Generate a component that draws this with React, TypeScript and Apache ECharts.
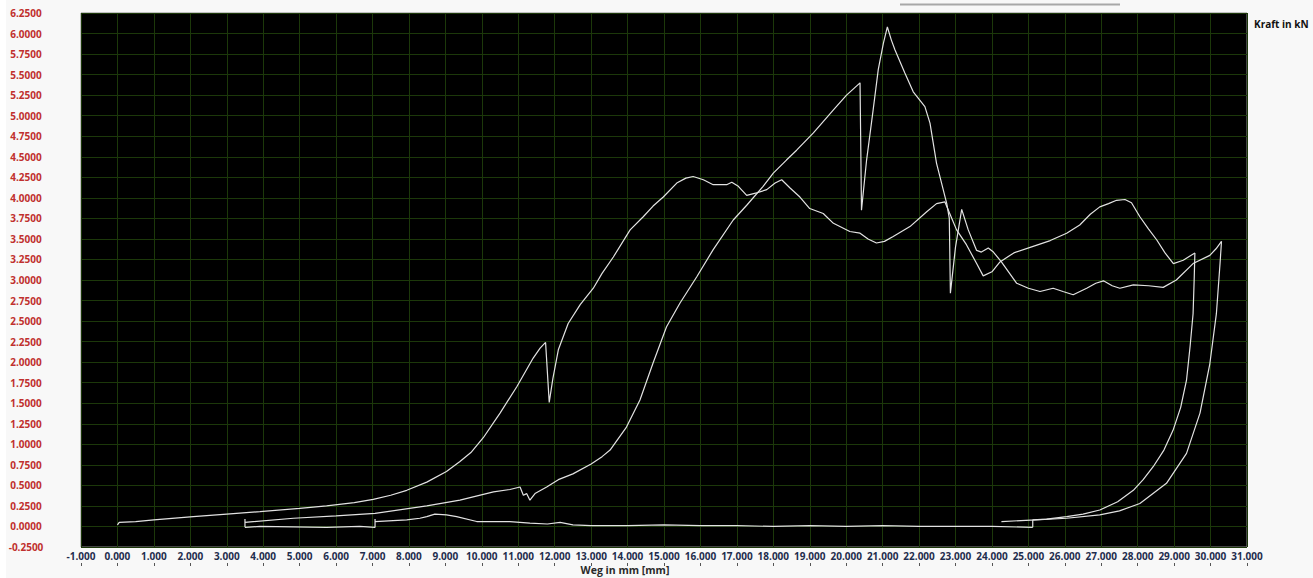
import React, { useEffect, useRef } from "react";
import * as echarts from "echarts";

// Force (kN) vs. displacement (mm) trace, split into its segments
const firstLoading: [number, number][] = [
  [0.0, 0.02], [0.05, 0.05], [0.5, 0.06], [1.0, 0.08], [2.08, 0.12], [3.0, 0.15], [3.91, 0.18], [5.0, 0.22],
  [5.74, 0.25], [6.5, 0.29], [7.02, 0.33], [7.5, 0.38], [7.94, 0.44], [8.49, 0.54], [9.03, 0.67], [9.4, 0.79],
  [9.7, 0.9], [10.04, 1.08], [10.5, 1.38], [10.96, 1.7], [11.41, 2.05], [11.6, 2.17], [11.75, 2.24], [11.85, 1.51],
  [11.95, 1.8], [12.1, 2.15], [12.37, 2.47], [12.7, 2.7], [13.06, 2.9], [13.3, 3.08], [13.61, 3.28], [14.07, 3.61],
  [14.43, 3.77], [14.7, 3.9], [14.98, 4.01], [15.35, 4.18], [15.6, 4.24], [15.8, 4.26], [16.08, 4.22], [16.35, 4.16],
  [16.72, 4.16], [16.86, 4.19], [17.04, 4.14], [17.27, 4.03], [17.54, 4.06], [17.82, 4.1], [18.05, 4.18], [18.23, 4.22],
  [18.46, 4.12], [18.73, 4.01], [19.0, 3.87], [19.37, 3.81], [19.65, 3.69], [20.1, 3.59], [20.38, 3.57], [20.6, 3.5],
  [20.83, 3.45], [21.05, 3.47], [21.29, 3.53], [21.75, 3.65], [22.21, 3.83], [22.48, 3.93], [22.71, 3.95], [22.85, 3.8],
  [23.03, 3.61], [23.3, 3.43], [23.58, 3.2], [23.76, 3.05], [24.0, 3.1], [24.22, 3.22], [24.6, 3.33], [25.13, 3.41],
  [25.6, 3.48], [26.05, 3.57], [26.41, 3.67], [26.7, 3.8], [26.96, 3.89], [27.2, 3.93], [27.42, 3.97], [27.65, 3.98],
  [27.83, 3.94], [28.06, 3.77], [28.3, 3.62], [28.52, 3.49], [28.75, 3.33], [28.98, 3.2], [29.25, 3.24], [29.57, 3.33],
];

const firstUnloading: [number, number][] = [
  [29.57, 3.33], [29.55, 3.0], [29.52, 2.59], [29.44, 2.2], [29.34, 1.78], [29.18, 1.45], [28.97, 1.17], [28.72, 0.93],
  [28.43, 0.73], [28.15, 0.57], [27.88, 0.44], [27.45, 0.3], [26.96, 0.2], [26.5, 0.15], [26.05, 0.12], [25.5, 0.09],
  [25.12, 0.08], [25.12, -0.01],
];

const returnPath: [number, number][] = [
  [25.12, -0.01], [24.0, 0.0], [23.0, 0.0], [22.0, 0.0], [21.0, 0.01], [20.0, 0.0], [19.0, 0.01], [18.0, 0.0],
  [17.0, 0.01], [16.0, 0.01], [15.0, 0.02], [14.0, 0.01], [13.0, 0.01], [12.5, 0.02], [12.15, 0.05], [11.8, 0.03],
  [11.32, 0.04], [10.77, 0.06], [9.86, 0.06], [9.31, 0.12], [9.03, 0.14], [8.71, 0.15], [8.49, 0.12], [8.3, 0.1],
  [7.94, 0.08], [7.07, 0.06], [7.07, 0.09], [7.07, -0.01], [6.65, 0.0], [5.74, -0.01], [3.91, 0.0], [3.5, -0.01],
];

const secondLoading: [number, number][] = [
  [3.5, -0.01], [3.5, 0.09], [3.5, 0.05], [4.83, 0.1], [6.0, 0.13], [7.07, 0.16], [8.49, 0.25], [9.4, 0.32],
  [10.32, 0.42], [10.77, 0.45], [11.05, 0.48], [11.14, 0.38], [11.23, 0.4], [11.32, 0.32], [11.46, 0.4], [11.78, 0.48],
  [12.1, 0.57], [12.5, 0.64], [13.0, 0.76], [13.3, 0.85], [13.52, 0.93], [13.97, 1.21], [14.34, 1.54], [14.7, 1.99],
  [15.07, 2.43], [15.44, 2.72], [15.9, 3.04], [16.35, 3.37], [16.9, 3.73], [17.27, 3.91], [17.72, 4.14], [18.0, 4.3],
  [18.36, 4.46], [18.64, 4.58], [19.1, 4.79], [19.65, 5.07], [20.01, 5.25], [20.38, 5.4], [20.42, 3.85], [20.56, 4.46],
  [20.74, 5.07], [20.88, 5.56], [21.02, 5.88], [21.13, 6.08], [21.24, 5.92], [21.34, 5.8], [21.61, 5.52], [21.84, 5.29],
  [22.16, 5.11], [22.3, 4.91], [22.48, 4.42], [22.76, 3.93], [22.83, 3.75], [22.86, 2.84], [23.0, 3.4], [23.17, 3.86],
  [23.35, 3.61], [23.58, 3.36], [23.71, 3.34], [23.9, 3.39], [24.04, 3.34], [24.26, 3.22], [24.68, 2.96], [25.0, 2.9],
  [25.32, 2.86], [25.68, 2.9], [25.95, 2.86], [26.23, 2.82], [26.6, 2.9], [26.85, 2.96], [27.06, 2.99], [27.3, 2.93],
  [27.51, 2.9], [27.88, 2.94], [28.3, 2.93], [28.7, 2.91], [29.06, 3.0], [29.52, 3.2], [29.98, 3.3], [30.15, 3.38],
  [30.3, 3.47],
];

const secondUnloading: [number, number][] = [
  [30.3, 3.47], [30.26, 3.2], [30.16, 2.59], [29.98, 1.98], [29.71, 1.38], [29.34, 0.89], [28.79, 0.525], [28.06, 0.28],
  [27.5, 0.19], [26.96, 0.14], [26.05, 0.1], [25.2, 0.08], [24.26, 0.06],
];

const segments = [firstLoading, firstUnloading, returnPath, secondLoading, secondUnloading];

const xMin = -1;
const xMax = 31;
const yMin = -0.25;
const yMax = 6.25;
const xTitle = "Weg in mm [mm]";
const yTitle = "Kraft in kN";

export default function App() {
  const ref = useRef<HTMLDivElement>(null);

  useEffect(() => {
    if (!ref.current) return;
    const chart = echarts.init(ref.current, undefined, { renderer: "svg" });
    const gridColor = "#1c380a";
    chart.setOption({
      animation: false,
      backgroundColor: "#f8f8f8",
      grid: {
        left: 81,
        top: 13,
        right: 66,
        bottom: 31,
        show: true,
        backgroundColor: "#000000",
        borderColor: "#8a8a8a",
        borderWidth: 1,
      },
      xAxis: [
        {
          type: "value",
          min: xMin,
          max: xMax,
          interval: 1,
          axisLine: { show: false },
          axisTick: { show: false },
          axisLabel: {
            formatter: (v: number) => v.toFixed(3),
            color: "#1f2d4d",
            fontFamily: "Open Sans",
            fontWeight: "bold",
            fontSize: 10,
            margin: 4,
          },
          splitLine: { show: true, lineStyle: { color: gridColor, width: 1 } },
        },
        {
          type: "value",
          position: "bottom",
          offset: 16,
          min: xMin,
          max: xMax,
          interval: 1,
          axisLine: { show: false },
          axisTick: { show: true, length: 3, lineStyle: { color: "#555" } },
          axisLabel: { show: false },
          splitLine: { show: false },
        },
      ],
      yAxis: {
        type: "value",
        min: yMin,
        max: yMax,
        interval: 0.25,
        axisLine: { show: false },
        axisTick: { show: false },
        axisLabel: {
          formatter: (v: number) => v.toFixed(4),
          color: "#c0302e",
          fontFamily: "Open Sans",
          fontWeight: "bold",
          fontSize: 10,
          align: "center",
          margin: 55,
        },
        splitLine: { show: true, lineStyle: { color: gridColor, width: 1 } },
      },
      graphic: [
        {
          type: "rect",
          shape: { x: 0, y: 0, width: 6, height: 578 },
          style: { fill: "#ffffff" },
          silent: true,
        },
        {
          type: "text",
          left: 1254,
          top: 19,
          style: { text: yTitle, fill: "#111", font: "bold 10px 'Open Sans'" },
        },
        {
          type: "text",
          x: 625,
          y: 570,
          style: {
            text: xTitle,
            fill: "#2a2a2a",
            font: "bold 10.5px 'Open Sans'",
            align: "center",
            verticalAlign: "middle",
          },
        },
        {
          type: "line",
          shape: { x1: 900, y1: 4.5, x2: 1120, y2: 4.5 },
          style: { stroke: "#a8a8a8", lineWidth: 2 },
        },
      ],
      series: segments.map((seg) => ({
        type: "line",
        xAxisIndex: 0,
        data: seg,
        showSymbol: false,
        symbol: "none",
        lineStyle: { color: "#e2e2e2", width: 1.2 },
        silent: true,
      })),
    });
    return () => chart.dispose();
  }, []);

  return (
    <div
      ref={ref}
      style={{ position: "absolute", left: 0, top: 0, width: 1313, height: 578 }}
    />
  );
}
